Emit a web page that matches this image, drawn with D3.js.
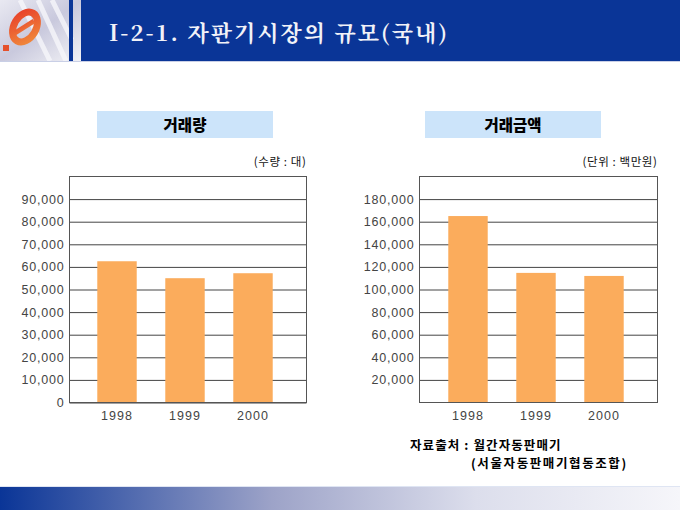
<!DOCTYPE html>
<html><head><meta charset="utf-8">
<script src="https://cdn.jsdelivr.net/npm/d3@7"></script>
<style>
html,body{margin:0;padding:0;background:#fff;}
svg{display:block;}
</style></head>
<body>
<svg id="c" width="680" height="510"></svg>
<script>
const years = ["1998", "1999", "2000"];
const volumeValues = [62500, 55000, 57200];
const amountValues = [165000, 114700, 112000];
const volumeTicks = [0, 10000, 20000, 30000, 40000, 50000, 60000, 70000, 80000, 90000];
const amountTicks = [20000, 40000, 60000, 80000, 100000, 120000, 140000, 160000, 180000];
const titleText = "I-2-1. 자판기시장의 규모(국내)";
const volumeTitle = "거래량";
const amountTitle = "거래금액";
const volumeUnit = "(수량 : 대)";
const amountUnit = "(단위 : 백만원)";
const sourceLines = ["자료출처 : 월간자동판매기", "(서울자동판매기협동조합)"];

const svg = d3.select("#c");
const defs = svg.append("defs");

// header
const lg = defs.append("linearGradient").attr("id","logoBg").attr("x1","0").attr("y1","0").attr("x2","1").attr("y2","1");
lg.append("stop").attr("offset","0").attr("stop-color","#e9e9f2");
lg.append("stop").attr("offset","0.5").attr("stop-color","#c9c9dd");
lg.append("stop").attr("offset","1").attr("stop-color","#f2f2f6");
svg.append("rect").attr("x",0).attr("y",0).attr("width",81).attr("height",61).attr("fill","url(#logoBg)");
[[20,0,50,61],[38,0,66,61],[52,0,72,40]].forEach(d=>{
  svg.append("line").attr("x1",d[0]).attr("y1",d[1]).attr("x2",d[2]).attr("y2",d[3]).attr("stroke","#f7f7fb").attr("stroke-width",5).attr("opacity",0.8);
});
const rg = defs.append("linearGradient").attr("id","logoRed").attr("x1","0").attr("y1","0").attr("x2","1").attr("y2","1");
rg.append("stop").attr("offset","0").attr("stop-color","#e8402a");
rg.append("stop").attr("offset","1").attr("stop-color","#f08a3c");
svg.append("ellipse").attr("cx",25).attr("cy",27).attr("rx",11).attr("ry",16).attr("transform","rotate(30,25,27)")
  .attr("fill","none").attr("stroke","url(#logoRed)").attr("stroke-width",7);
svg.append("line").attr("x1",15).attr("y1",33).attr("x2",34).attr("y2",21).attr("stroke","url(#logoRed)").attr("stroke-width",5);
svg.append("rect").attr("x",3).attr("y",45).attr("width",6).attr("height",6).attr("fill","#e5502c");
svg.append("rect").attr("x",69).attr("y",0).attr("width",4).attr("height",61).attr("fill","#0a3597");
svg.append("rect").attr("x",81).attr("y",0).attr("width",599).attr("height",61).attr("fill","#0a3597");
svg.append("rect").attr("x",0).attr("y",61).attr("width",680).attr("height",1).attr("fill","#c9cfe6");
svg.append("text").attr("x",109).attr("y",41).text(titleText)
  .attr("fill","#f2f2f8").attr("font-family","'Noto Serif CJK KR','Liberation Serif','DejaVu Serif',serif")
  .attr("font-size",22).attr("font-weight","bold").attr("letter-spacing",2);

// bottom band
const bg = defs.append("linearGradient").attr("id","botBg").attr("x1","0").attr("x2","1");
bg.append("stop").attr("offset","0").attr("stop-color","#0a3597");
bg.append("stop").attr("offset","0.4").attr("stop-color","#9da3c8");
bg.append("stop").attr("offset","0.7").attr("stop-color","#dcdeec");
bg.append("stop").attr("offset","1").attr("stop-color","#f6f6fa");
svg.append("rect").attr("x",0).attr("y",487).attr("width",680).attr("height",23).attr("fill","url(#botBg)");
svg.append("rect").attr("x",0).attr("y",486).attr("width",680).attr("height",1).attr("fill","#dfe5f3");

const numFmt = d3.format(",");
const labelFont = "'Liberation Sans','DejaVu Sans',sans-serif";
const koFont = "'Noto Sans CJK KR',sans-serif";

function drawChart(opt){
  const g = svg.append("g");
  const x = d3.scaleBand().domain(years).range([opt.bandL, opt.bandR]).paddingInner(0.42).paddingOuter(0.21);
  const y = d3.scaleLinear().domain([0, opt.max]).range([opt.bottom, opt.top]);

  // title box
  g.append("rect").attr("x",opt.boxL).attr("y",111).attr("width",176).attr("height",27).attr("fill","#cce4fa");
  g.append("text").attr("x",opt.boxL+88).attr("y",131).attr("text-anchor","middle").text(opt.title)
    .attr("font-family",koFont).attr("font-weight","900").attr("font-size",15.5).attr("fill","#000");
  g.append("text").attr("x",opt.right).attr("y",166).attr("text-anchor","end").text(opt.unit)
    .attr("font-family",koFont).attr("font-size",11.5).attr("fill","#111").attr("letter-spacing",0.6);

  // plot background and gridlines
  g.append("rect").attr("x",opt.left).attr("y",opt.top).attr("width",opt.right-opt.left).attr("height",opt.bottom-opt.top).attr("fill","#fff");
  const ax = g.append("g").attr("transform",`translate(${opt.left},0)`)
    .call(d3.axisLeft(y).tickValues(opt.ticks).tickFormat(numFmt).tickSize(-(opt.right-opt.left)).tickPadding(5));
  ax.select(".domain").remove();
  ax.selectAll(".tick line").attr("stroke","#444").attr("stroke-width",1);
  ax.selectAll(".tick text").attr("font-family",labelFont).attr("font-size",12.5).attr("fill","#444").attr("letter-spacing",0.8);

  // bars
  g.selectAll(".bar").data(opt.values).enter().append("rect")
    .attr("x",(d,i)=>x(years[i])).attr("width",x.bandwidth())
    .attr("y",d=>y(d)).attr("height",d=>y(0)-y(d)).attr("fill","#fbac5c");

  // frame
  g.append("rect").attr("x",opt.left).attr("y",opt.top).attr("width",opt.right-opt.left).attr("height",opt.bottom-opt.top)
    .attr("fill","none").attr("stroke","#555").attr("stroke-width",1);

  const xa = g.append("g").attr("transform",`translate(0,${opt.bottom})`).call(d3.axisBottom(x).tickSize(0).tickPadding(9));
  xa.select(".domain").remove();
  xa.selectAll(".tick text").attr("font-family",labelFont).attr("font-size",12.5).attr("fill","#444").attr("letter-spacing",1);
}

drawChart({left:69.5, right:306.5, top:176.5, bottom:402.5, bandL:83, bandR:287, max:100000,
  values:volumeValues, ticks:volumeTicks, title:volumeTitle, unit:volumeUnit, boxL:97});
drawChart({left:419.5, right:657.5, top:176.5, bottom:402.5, bandL:434, bandR:638, max:200000,
  values:amountValues, ticks:amountTicks, title:amountTitle, unit:amountUnit, boxL:425});

svg.append("text").attr("x",410).attr("y",450).text(sourceLines[0])
  .attr("font-family",koFont).attr("font-size",12.5).attr("font-weight","bold").attr("fill","#000").attr("letter-spacing",1.1);
svg.append("text").attr("x",471).attr("y",468).text(sourceLines[1])
  .attr("font-family",koFont).attr("font-size",12.5).attr("font-weight","bold").attr("fill","#000").attr("letter-spacing",1.6);
</script>
</body></html>
